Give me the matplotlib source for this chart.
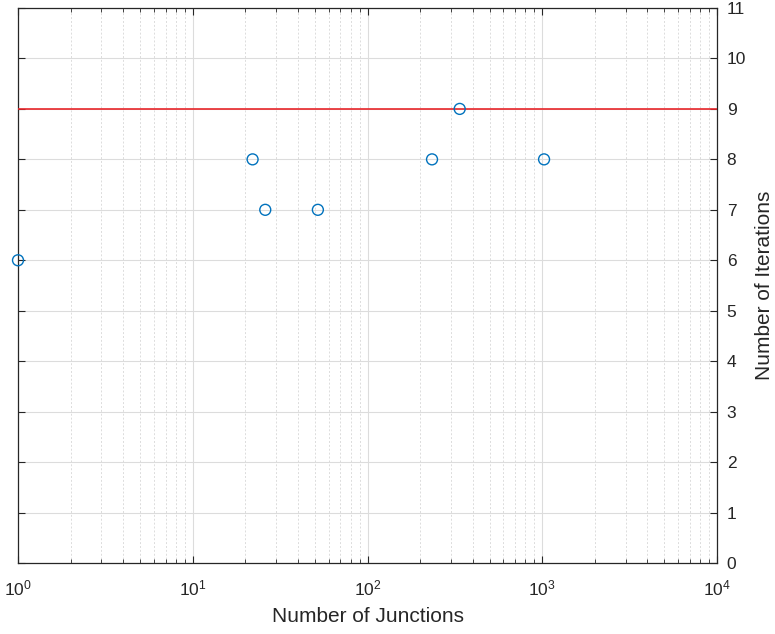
import matplotlib
matplotlib.use("Agg")
import matplotlib.pyplot as plt
from matplotlib.ticker import LogLocator, NullFormatter, MultipleLocator

junctions = [1, 22, 26, 52, 234, 337, 1024]
iterations = [6, 8, 7, 7, 8, 9, 8]
limit_value = 9
x_range = [1, 1e4]
y_range = [0, 11]
x_label = "Number of Junctions"
y_label = "Number of Iterations"

plt.rcParams['font.family'] = ['Liberation Sans', 'DejaVu Sans']

fig = plt.figure(figsize=(7.75, 6.34), dpi=100)
ax = fig.add_axes([18/775, 1 - 563/634, (717-18)/775, (563-8)/634])

ax.set_xscale('log')
ax.set_xlim(*x_range)
ax.set_ylim(*y_range)

ax.axhline(limit_value, color='#e8262a', lw=1.2, zorder=3)
ax.scatter(junctions, iterations, s=62, facecolors='none', edgecolors='#0072BD',
           linewidths=1.0, zorder=4, clip_on=False)

ax.xaxis.set_major_locator(LogLocator(base=10, numticks=10))
ax.xaxis.set_minor_locator(LogLocator(base=10, subs=range(2, 10), numticks=100))
ax.xaxis.set_minor_formatter(NullFormatter())
ax.yaxis.set_major_locator(MultipleLocator(1))

ax.yaxis.tick_right()
ax.yaxis.set_label_position('right')
ax.tick_params(axis='both', which='both', direction='in', top=True, bottom=True,
               left=True, right=True, colors='#262626', labelsize=12.5)
ax.tick_params(axis='x', which='major', length=5, pad=11)
ax.tick_params(axis='x', which='minor', length=3)
ax.tick_params(axis='y', which='major', length=5, pad=7)

ax.grid(True, which='major', color='#dcdcdc', lw=0.8, ls='-')
ax.grid(True, which='minor', axis='x', color='#dcdcdc', lw=0.7, ls=(0, (2, 2)))
ax.set_axisbelow(True)

for sp in ax.spines.values():
    sp.set_color('#262626')
    sp.set_linewidth(0.9)

ax.set_xlabel(x_label, fontsize=15, color='#262626')
ax.set_ylabel(y_label, fontsize=15, color='#262626')
ax.xaxis.set_label_coords(0.5, (563 - 607) / 555)
ax.yaxis.set_label_coords((755 - 18) / 699, 0.5)

fig.savefig("out.png", dpi=100)
